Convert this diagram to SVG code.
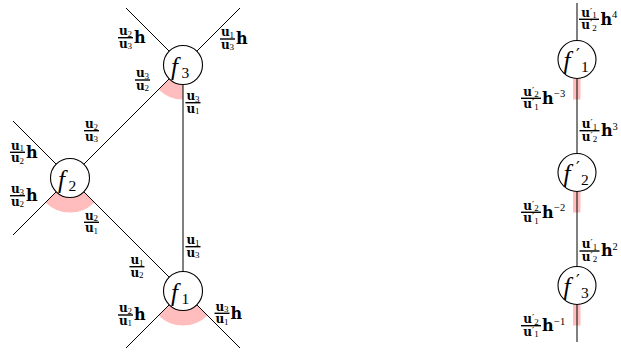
<svg xmlns="http://www.w3.org/2000/svg" width="621" height="352" viewBox="0 0 621 352">
  <style>
    .ln { stroke: #000; stroke-width: 1; fill: none; }
    .pk { stroke: #ffbdbd; stroke-width: 15; fill: none; }
    .pkr { fill: #ffbdbd; }
    .nd { fill: #fff; stroke: #000; stroke-width: 1.1; }
    .bar { stroke: #000; stroke-width: 1.4; }
    text { font-family: "DejaVu Serif", "Liberation Serif", serif; fill: #000; }
    .u { font-weight: bold; font-size: 12px; text-anchor: middle; }
    .s { font-weight: normal; font-family: "Liberation Serif", serif; font-size: 9px; }
    .q { font-weight: normal; font-family: "DejaVu Serif", serif; font-size: 9.5px; }
    .h { font-weight: bold; font-size: 16px; }
    .sp { font-family: "Liberation Serif", serif; font-size: 10.5px; }
    .fi { font-family: "Liberation Serif", serif; font-style: italic; font-size: 25px; }
    .fs { font-family: "Liberation Serif", serif; font-style: normal; font-size: 15.5px; }
    .pr { font-family: "DejaVu Serif", serif; font-style: normal; font-size: 17px; }
  </style>

  <!-- highlighted angular sectors -->
  <g id="sectors">
    <path class="pk" d="M183 92 A27 27 0 0 1 163.91 84.09"/>
    <path class="pk" d="M89.09 197.09 A27 27 0 0 1 50.91 197.09"/>
    <path class="pk" d="M202.09 310.09 A27 27 0 0 1 163.91 310.09"/>
    <rect class="pkr" x="573" y="78.5" width="7.5" height="21"/>
    <rect class="pkr" x="573" y="191.5" width="7.5" height="21"/>
    <rect class="pkr" x="573" y="304.5" width="7.5" height="21"/>
  </g>

  <!-- connectors -->
  <g id="edges">
    <line class="ln" x1="183" y1="65" x2="126" y2="8"/>
    <line class="ln" x1="183" y1="65" x2="240" y2="8"/>
    <line class="ln" x1="183" y1="65" x2="70" y2="178"/>
    <line class="ln" x1="183" y1="65" x2="183" y2="291"/>
    <line class="ln" x1="70" y1="178" x2="13" y2="121"/>
    <line class="ln" x1="70" y1="178" x2="13" y2="235"/>
    <line class="ln" x1="70" y1="178" x2="183" y2="291"/>
    <line class="ln" x1="183" y1="291" x2="126" y2="348"/>
    <line class="ln" x1="183" y1="291" x2="240" y2="348"/>
    <line class="ln" x1="577" y1="3" x2="577" y2="342"/>
  </g>

  <!-- nodes -->
  <g id="f3">
    <circle class="nd" cx="183" cy="65" r="19.5"/>
    <text class="fi" x="171" y="74.5">f<tspan class="fs" x="181.5" y="77.5">3</tspan></text>
  </g>
  <g id="f2">
    <circle class="nd" cx="70" cy="178" r="19.5"/>
    <text class="fi" x="58" y="187.5">f<tspan class="fs" x="68.5" y="190.5">2</tspan></text>
  </g>
  <g id="f1">
    <circle class="nd" cx="183" cy="291" r="19.5"/>
    <text class="fi" x="171" y="300.5">f<tspan class="fs" x="181.5" y="303.5">1</tspan></text>
  </g>
  <g id="f1p">
    <circle class="nd" cx="577" cy="59.5" r="19"/>
    <text class="fi" x="563.5" y="69">f<tspan class="pr" x="576" y="59.5">′</tspan><tspan class="fs" x="581" y="72">1</tspan></text>
  </g>
  <g id="f2p">
    <circle class="nd" cx="577" cy="172.5" r="19"/>
    <text class="fi" x="563.5" y="182">f<tspan class="pr" x="576" y="172.5">′</tspan><tspan class="fs" x="581" y="185">2</tspan></text>
  </g>
  <g id="f3p">
    <circle class="nd" cx="577" cy="285.5" r="19"/>
    <text class="fi" x="563.5" y="295">f<tspan class="pr" x="576" y="285.5">′</tspan><tspan class="fs" x="581" y="298">3</tspan></text>
  </g>

  <!-- edge labels, triangle -->
  <g id="labels">
    <g>
      <text class="u" x="125.5" y="35">u<tspan class="s" dy="1.5">2</tspan></text>
      <line class="bar" x1="118" y1="37.7" x2="133" y2="37.7"/>
      <text class="u" x="125.5" y="47.5">u<tspan class="s" dy="1.5">3</tspan></text>
      <text class="h" x="134" y="43">h</text>
    </g>
    <g>
      <text class="u" x="227.5" y="36.3">u<tspan class="s" dy="1.5">1</tspan></text>
      <line class="bar" x1="220" y1="39" x2="235" y2="39"/>
      <text class="u" x="227.5" y="48.8">u<tspan class="s" dy="1.5">3</tspan></text>
      <text class="h" x="236" y="44.3">h</text>
    </g>
    <g>
      <text class="u" x="142.5" y="77.3">u<tspan class="s" dy="1.5">3</tspan></text>
      <line class="bar" x1="135" y1="80" x2="150" y2="80"/>
      <text class="u" x="142.5" y="89.8">u<tspan class="s" dy="1.5">2</tspan></text>
    </g>
    <g>
      <text class="u" x="193" y="100">u<tspan class="s" dy="1.5">3</tspan></text>
      <line class="bar" x1="185.5" y1="102.7" x2="200.5" y2="102.7"/>
      <text class="u" x="193" y="112.5">u<tspan class="s" dy="1.5">1</tspan></text>
    </g>
    <g>
      <text class="u" x="91.5" y="128">u<tspan class="s" dy="1.5">2</tspan></text>
      <line class="bar" x1="84" y1="130.7" x2="99" y2="130.7"/>
      <text class="u" x="91.5" y="140.5">u<tspan class="s" dy="1.5">3</tspan></text>
    </g>
    <g>
      <text class="u" x="17.5" y="149.6">u<tspan class="s" dy="1.5">1</tspan></text>
      <line class="bar" x1="10" y1="152.3" x2="25" y2="152.3"/>
      <text class="u" x="17.5" y="162.1">u<tspan class="s" dy="1.5">2</tspan></text>
      <text class="h" x="26" y="157.6">h</text>
    </g>
    <g>
      <text class="u" x="17.5" y="193">u<tspan class="s" dy="1.5">3</tspan></text>
      <line class="bar" x1="10" y1="195.7" x2="25" y2="195.7"/>
      <text class="u" x="17.5" y="205.5">u<tspan class="s" dy="1.5">2</tspan></text>
      <text class="h" x="26" y="201">h</text>
    </g>
    <g>
      <text class="u" x="91.5" y="219.6">u<tspan class="s" dy="1.5">2</tspan></text>
      <line class="bar" x1="84" y1="222.3" x2="99" y2="222.3"/>
      <text class="u" x="91.5" y="232.1">u<tspan class="s" dy="1.5">1</tspan></text>
    </g>
    <g>
      <text class="u" x="137" y="264">u<tspan class="s" dy="1.5">1</tspan></text>
      <line class="bar" x1="129.5" y1="266.7" x2="144.5" y2="266.7"/>
      <text class="u" x="137" y="276.5">u<tspan class="s" dy="1.5">2</tspan></text>
    </g>
    <g>
      <text class="u" x="193" y="244">u<tspan class="s" dy="1.5">1</tspan></text>
      <line class="bar" x1="185.5" y1="246.7" x2="200.5" y2="246.7"/>
      <text class="u" x="193" y="256.5">u<tspan class="s" dy="1.5">3</tspan></text>
    </g>
    <g>
      <text class="u" x="125.5" y="312.3">u<tspan class="s" dy="1.5">2</tspan></text>
      <line class="bar" x1="118" y1="315" x2="133" y2="315"/>
      <text class="u" x="125.5" y="324.8">u<tspan class="s" dy="1.5">1</tspan></text>
      <text class="h" x="134" y="320.3">h</text>
    </g>
    <g>
      <text class="u" x="222" y="310.6">u<tspan class="s" dy="1.5">3</tspan></text>
      <line class="bar" x1="214.5" y1="313.3" x2="229.5" y2="313.3"/>
      <text class="u" x="222" y="323.1">u<tspan class="s" dy="1.5">1</tspan></text>
      <text class="h" x="230.5" y="318.6">h</text>
    </g>
  </g>

  <!-- edge labels, chain -->
  <g id="chain-labels">
    <g>
      <text class="u" x="589" y="16.6">u<tspan class="q" dy="-2">′</tspan><tspan class="s" dy="3.5">1</tspan></text>
      <line class="bar" x1="579" y1="19.3" x2="599" y2="19.3"/>
      <text class="u" x="589" y="29.1">u<tspan class="q" dy="-2">′</tspan><tspan class="s" dy="3.5">2</tspan></text>
      <text class="h" x="600.5" y="24.6">h</text>
      <text class="sp" x="612" y="18.3">4</text>
    </g>
    <g>
      <text class="u" x="531" y="95.6">u<tspan class="q" dy="-2">′</tspan><tspan class="s" dy="3.5">2</tspan></text>
      <line class="bar" x1="521" y1="98.3" x2="541" y2="98.3"/>
      <text class="u" x="531" y="108.1">u<tspan class="q" dy="-2">′</tspan><tspan class="s" dy="3.5">1</tspan></text>
      <text class="h" x="542" y="103.6">h</text>
      <text class="sp" x="554" y="97.3">−3</text>
    </g>
    <g>
      <text class="u" x="589.5" y="128">u<tspan class="q" dy="-2">′</tspan><tspan class="s" dy="3.5">1</tspan></text>
      <line class="bar" x1="579.5" y1="130.7" x2="599.5" y2="130.7"/>
      <text class="u" x="589.5" y="140.5">u<tspan class="q" dy="-2">′</tspan><tspan class="s" dy="3.5">2</tspan></text>
      <text class="h" x="601" y="136">h</text>
      <text class="sp" x="612.5" y="129.7">3</text>
    </g>
    <g>
      <text class="u" x="531" y="209.6">u<tspan class="q" dy="-2">′</tspan><tspan class="s" dy="3.5">2</tspan></text>
      <line class="bar" x1="521" y1="212.3" x2="541" y2="212.3"/>
      <text class="u" x="531" y="222.1">u<tspan class="q" dy="-2">′</tspan><tspan class="s" dy="3.5">1</tspan></text>
      <text class="h" x="542" y="217.6">h</text>
      <text class="sp" x="554" y="211.3">−2</text>
    </g>
    <g>
      <text class="u" x="589.5" y="248.3">u<tspan class="q" dy="-2">′</tspan><tspan class="s" dy="3.5">1</tspan></text>
      <line class="bar" x1="579.5" y1="251" x2="599.5" y2="251"/>
      <text class="u" x="589.5" y="260.8">u<tspan class="q" dy="-2">′</tspan><tspan class="s" dy="3.5">2</tspan></text>
      <text class="h" x="601" y="256.3">h</text>
      <text class="sp" x="612.5" y="250">2</text>
    </g>
    <g>
      <text class="u" x="531" y="323">u<tspan class="q" dy="-2">′</tspan><tspan class="s" dy="3.5">2</tspan></text>
      <line class="bar" x1="521" y1="325.7" x2="541" y2="325.7"/>
      <text class="u" x="531" y="335.5">u<tspan class="q" dy="-2">′</tspan><tspan class="s" dy="3.5">1</tspan></text>
      <text class="h" x="542" y="331">h</text>
      <text class="sp" x="554" y="324.7">−1</text>
    </g>
  </g>
</svg>
